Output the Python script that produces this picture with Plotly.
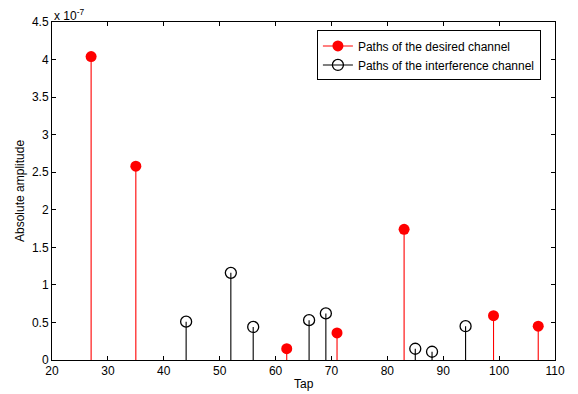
import plotly.graph_objects as go

# Values in units of 1e-7
desired_taps = [27, 35, 62, 71, 83, 99, 107]
desired_amp = [4.04, 2.58, 0.15, 0.36, 1.74, 0.59, 0.45]
interf_taps = [44, 52, 56, 66, 69, 85, 88, 94]
interf_amp = [0.51, 1.16, 0.44, 0.53, 0.62, 0.15, 0.11, 0.45]
x_ticks = [20, 30, 40, 50, 60, 70, 80, 90, 100, 110]
y_ticks = [0, 0.5, 1, 1.5, 2, 2.5, 3, 3.5, 4, 4.5]
y_ticklabels = ["0", "0.5", "1", "1.5", "2", "2.5", "3", "3.5", "4", "4.5"]

FONT = "Liberation Sans, Arial, Helvetica, sans-serif"


def stems(xs, ys):
    sx, sy = [], []
    for x, y in zip(xs, ys):
        sx += [x, x, None]
        sy += [0, y, None]
    return sx, sy


fig = go.Figure()
dx, dy = stems(desired_taps, desired_amp)
ix, iy = stems(interf_taps, interf_amp)

fig.add_trace(go.Scatter(x=dx, y=dy, mode="lines", line=dict(color="red", width=1.1),
                         showlegend=False, hoverinfo="skip"))
fig.add_trace(go.Scatter(x=ix, y=iy, mode="lines", line=dict(color="black", width=1.1),
                         showlegend=False, hoverinfo="skip"))
fig.add_trace(go.Scatter(x=desired_taps, y=desired_amp, mode="markers",
                         marker=dict(color="red", size=11, line=dict(color="red", width=0)),
                         showlegend=False))
fig.add_trace(go.Scatter(x=interf_taps, y=interf_amp, mode="markers",
                         marker=dict(color="black", size=11, symbol="circle-open",
                                     line=dict(color="black", width=1.3)),
                         showlegend=False))
# legend entries
fig.add_trace(go.Scatter(x=[None], y=[None], mode="lines+markers", name="Paths of the desired channel",
                         line=dict(color="red", width=1.1), marker=dict(color="red", size=11)))
fig.add_trace(go.Scatter(x=[None], y=[None], mode="lines+markers", name="Paths of the interference channel",
                         line=dict(color="black", width=1.1),
                         marker=dict(color="black", size=11, symbol="circle-open",
                                     line=dict(color="black", width=1.3))))

axis_common = dict(showline=True, mirror="ticks", linecolor="black", linewidth=1,
                   ticks="inside", ticklen=4, tickcolor="black", showgrid=False, zeroline=False,
                   automargin=False,
                   tickfont=dict(family=FONT, size=12, color="black"))

fig.update_xaxes(range=[20, 110], tickvals=x_ticks, **axis_common)
fig.update_yaxes(range=[0, 4.5], tickvals=y_ticks, ticktext=y_ticklabels, **axis_common)

fig.add_annotation(text="x 10<sup>-7</sup>", xref="paper", yref="paper", x=0, y=1.0,
                   xanchor="left", yanchor="bottom", showarrow=False, yshift=-3,
                   font=dict(family=FONT, size=12, color="black"))
fig.add_annotation(text="Tap", xref="paper", yref="paper", x=0.5, y=0,
                   xanchor="center", yanchor="middle", showarrow=False, yshift=-24,
                   font=dict(family=FONT, size=12, color="black"))
fig.add_annotation(text="Absolute amplitude", xref="paper", yref="paper", x=0, y=0.5,
                   xanchor="center", yanchor="middle", showarrow=False, xshift=-32,
                   textangle=-90, font=dict(family=FONT, size=12, color="black"))

# page body has an 8px margin; margins below compensate so the plot area
# lands at x 52..555, y 22..360 in the window
fig.update_layout(
    width=578, height=394,
    margin=dict(l=44, r=31, t=14, b=42, autoexpand=False),
    paper_bgcolor="white", plot_bgcolor="white",
    font=dict(family=FONT, size=12, color="black"),
    legend=dict(x=0.972, y=0.975, xanchor="right", yanchor="top",
                bgcolor="white", bordercolor="black", borderwidth=1,
                font=dict(family=FONT, size=12, color="black"),
                tracegroupgap=0, itemwidth=30),
)

fig.write_html("out.html")
